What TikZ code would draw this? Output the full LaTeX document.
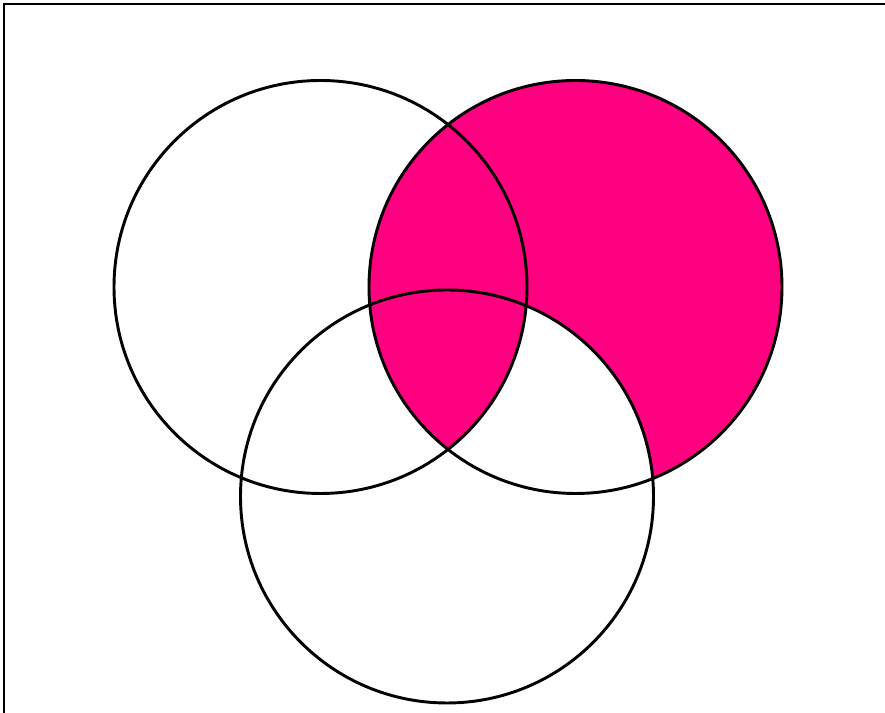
\documentclass[tikz,border=0pt]{standalone}
\usepackage{tikz}
\definecolor{setpink}{RGB}{255,0,128}

\begin{document}
\begin{tikzpicture}[x=0.03cm, y=0.03cm, ring/.style={line width=2.5pt}]
  \useasboundingbox (0,0) rectangle (885,713);
  % frame: only left and top edges show
  \draw[line width=2.4pt] (4,0) -- (4,709) -- (885,709);
  % set centres
  \coordinate (A) at (320.5,426);
  \coordinate (B) at (575.5,426);
  \coordinate (C) at (447,216.5);
  \def\rad{206.5}
  % shaded region: B minus (C minus A)
  \fill[setpink] (B) circle (\rad);
  \begin{scope}
    \clip (B) circle (\rad);
    \clip (C) circle (\rad);
    \fill[white] (C) circle (\rad);
    \clip (A) circle (\rad);
    \fill[setpink] (A) circle (\rad);
  \end{scope}
  % outlines
  \foreach \c in {A,B,C}
    \draw[ring] (\c) circle (\rad);
\end{tikzpicture}
\end{document}
